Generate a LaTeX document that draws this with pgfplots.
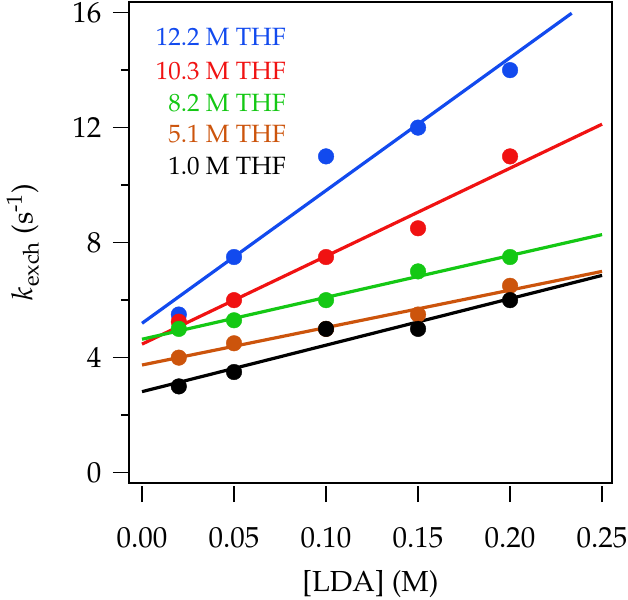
\documentclass[border=0pt]{standalone}
\usepackage[T1]{fontenc}
\usepackage{mathpazo}
\usepackage{pgfplots}
\usetikzlibrary{calc}
\pgfplotsset{compat=1.18}
\definecolor{cblue}{RGB}{18,74,238}
\definecolor{cred}{RGB}{240,18,18}
\definecolor{cgreen}{RGB}{20,200,20}
\definecolor{corange}{RGB}{204,84,12}
\begin{document}
\begin{tikzpicture}
\begin{axis}[
  name=ax,
  width=483pt, height=481pt, scale only axis,
  xmin=-0.00707, xmax=0.2554, ymin=-0.36, ymax=16.37,
  xtick={0,0.05,0.1,0.15,0.2,0.25},
  xticklabels={\textrm{0.00},\textrm{0.05},\textrm{0.10},\textrm{0.15},\textrm{0.20},\textrm{0.25}},
  ytick={0,4,8,12,16}, minor ytick={2,6,10,14},
  yticklabels={\textrm{0},\textrm{4},\textrm{8},\textrm{12},\textrm{16}},
  /pgf/number format/assume math mode=true,
  tick align=outside, xtick pos=bottom, ytick pos=left,
  major tick length=16pt, minor tick length=8pt,
  axis line style={line width=1.6pt},
  every tick/.style={black, line width=1.6pt},
  xtick style={yshift=-3pt},
  tick label style={font=\fontsize{29}{34}\selectfont},
  xticklabel style={yshift=-25pt},
  yticklabel style={xshift=-8pt},
  xlabel={[LDA] (M)},
  ylabel={$k_{\mathrm{exch}}$ (s\textsuperscript{-1})},
  label style={font=\fontsize{29}{34}\selectfont},
  xlabel style={at={(axis description cs:0.5,-0.21)}, anchor=center},
  ylabel style={at={(axis description cs:-0.22,0.5)}, anchor=center},
  clip=false,
]
% 12.2 M THF
\addplot[cblue, line width=3.2pt, no marks] coordinates {(0,5.195) (0.2335,15.98)};
\addplot[cblue, only marks, mark=*, mark size=7.8pt] coordinates {(0.02,5.5) (0.05,7.5) (0.10,11) (0.15,12) (0.20,14)};
% 10.3 M THF
\addplot[cred, line width=3.2pt, no marks] coordinates {(0,4.47) (0.25,12.12)};
\addplot[cred, only marks, mark=*, mark size=7.8pt] coordinates {(0.02,5.25) (0.05,6.0) (0.10,7.5) (0.15,8.5) (0.20,11)};
% 8.2 M THF
\addplot[cgreen, line width=3.2pt, no marks] coordinates {(0,4.64) (0.25,8.28)};
\addplot[cgreen, only marks, mark=*, mark size=7.8pt] coordinates {(0.02,5.0) (0.05,5.3) (0.10,6.0) (0.15,7.0) (0.20,7.5)};
% 5.1 M THF
\addplot[corange, line width=3.2pt, no marks] coordinates {(0,3.744) (0.25,7.0)};
\addplot[corange, only marks, mark=*, mark size=7.8pt] coordinates {(0.02,4.0) (0.05,4.5) (0.10,5.0) (0.15,5.5) (0.20,6.5)};
% 1.0 M THF
\addplot[black, line width=3.2pt, no marks] coordinates {(0,2.817) (0.25,6.86)};
\addplot[black, only marks, mark=*, mark size=7.8pt] coordinates {(0.02,3.0) (0.05,3.5) (0.10,5.0) (0.15,5.0) (0.20,6.0)};
\begin{scope}[every node/.style={anchor=base east, font=\fontsize{25}{30}\selectfont, inner sep=0pt}]
\node[text=cblue] at (axis cs:0.0783,14.84) {12.2 M THF};
\node[text=cred] at (axis cs:0.0783,13.69) {10.3 M THF};
\node[text=cgreen] at (axis cs:0.0783,12.56) {8.2 M THF};
\node[text=corange] at (axis cs:0.0783,11.50) {5.1 M THF};
\node[text=black] at (axis cs:0.0783,10.37) {1.0 M THF};
\end{scope}
\end{axis}
\pgfresetboundingbox
\path[use as bounding box] ($(ax.south west)+(-129pt,-116pt)$) rectangle ($(ax.north east)+(16pt,2pt)$);
\end{tikzpicture}
\end{document}
